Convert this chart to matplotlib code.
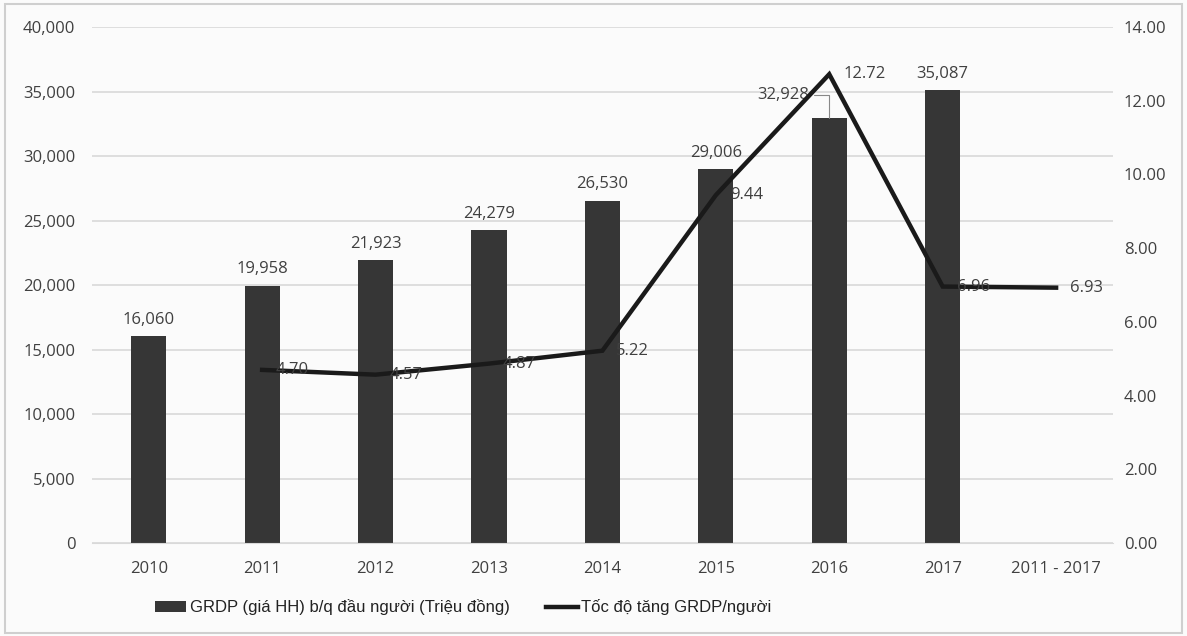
import matplotlib
matplotlib.use("Agg")
import matplotlib.pyplot as plt
from matplotlib.patches import Rectangle, Patch
from matplotlib.lines import Line2D
import numpy as np

categories = ["2010", "2011", "2012", "2013", "2014", "2015", "2016", "2017", "2011 - 2017"]
grdp = [16060, 19958, 21923, 24279, 26530, 29006, 32928, 35087]
growth_cats = ["2011", "2012", "2013", "2014", "2015", "2016", "2017", "2011 - 2017"]
growth = [4.70, 4.57, 4.87, 5.22, 9.44, 12.72, 6.96, 6.93]
left_ticks = [0, 5000, 10000, 15000, 20000, 25000, 30000, 35000, 40000]
right_ticks = [0, 2, 4, 6, 8, 10, 12, 14]

bar_label = "GRDP (giá HH) b/q đầu người (Triệu đồng)"
line_label = "Tốc độ tăng GRDP/người"

plt.rcParams['font.family'] = ['Open Sans', 'DejaVu Sans']
txt = "#404040"
fs = 12

fig = plt.figure(figsize=(11.87, 6.36), dpi=100, facecolor="#fbfbfb")
fig.patches.append(Rectangle((0.004, 0.004), 0.992, 0.99, transform=fig.transFigure,
                             fill=False, edgecolor="#cfcfcf", lw=1.5))
ax = fig.add_axes([0.0775, 0.146, 0.86, 0.8115])
ax.set_facecolor("#fbfbfb")
x = np.arange(len(categories))
bx = x[:len(grdp)]
ax.bar(bx, grdp, width=0.31, color="#363636", zorder=2)
ax.set_ylim(0, 40000)
ax.set_xlim(-0.5, len(categories) - 0.5)
ax.set_yticks(left_ticks)
ax.set_yticklabels([f"{v:,}" for v in left_ticks])
ax.set_xticks(x)
ax.set_xticklabels(categories)
ax.yaxis.grid(True, color="#d9d9d9", lw=1.2, zorder=0)
ax.set_axisbelow(True)
for s in ax.spines.values():
    s.set_visible(False)
ax.spines['bottom'].set_visible(True)
ax.spines['bottom'].set_color("#d9d9d9")
ax.tick_params(length=0, labelsize=fs, labelcolor=txt)
ax.tick_params(axis='x', pad=13)
ax.tick_params(axis='y', pad=12)

for i, v in enumerate(grdp):
    if categories[i] == "2016":
        ax.annotate(f"{v:,}", xy=(i, v), xytext=(-33, 17), textcoords="offset points",
                    ha="center", va="center", fontsize=fs, color=txt,
                    arrowprops=dict(arrowstyle="-", color="#888888", lw=0.8,
                                    connectionstyle="angle,angleA=0,angleB=90,rad=0",
                                    shrinkA=1, shrinkB=0))
    else:
        ax.annotate(f"{v:,}", xy=(i, v), xytext=(0, 6), textcoords="offset points",
                    ha="center", va="bottom", fontsize=fs, color=txt)

ax2 = ax.twinx()
gx = [categories.index(c) for c in growth_cats]
ax2.plot(gx, growth, color="#1a1a1a", lw=3.2, zorder=3, solid_joinstyle="miter")
ax2.set_ylim(0, 14)
ax2.set_yticks(right_ticks)
ax2.set_yticklabels([f"{v:.2f}" for v in right_ticks])
for s in ax2.spines.values():
    s.set_visible(False)
ax2.tick_params(length=0, labelsize=fs, labelcolor=txt, pad=8)
for xi, v in zip(gx, growth):
    ax2.annotate(f"{v:.2f}", xy=(xi, v), xytext=(10, 0), textcoords="offset points",
                 ha="left", va="center", fontsize=fs, color=txt)

handles = [Patch(facecolor="#363636", label=bar_label),
           Line2D([0], [0], color="#1a1a1a", lw=3.2, label=line_label)]
fig.legend(handles=handles, loc="center", bbox_to_anchor=(0.39, 0.045), ncol=2,
           frameon=False,
           prop={'family': ['Liberation Sans Narrow', 'Liberation Sans', 'DejaVu Sans'], 'size': 12},
           handlelength=1.9, handletextpad=0.2, columnspacing=2.2, labelcolor="#222222")

fig.savefig("out.png", dpi=100, facecolor=fig.get_facecolor())
